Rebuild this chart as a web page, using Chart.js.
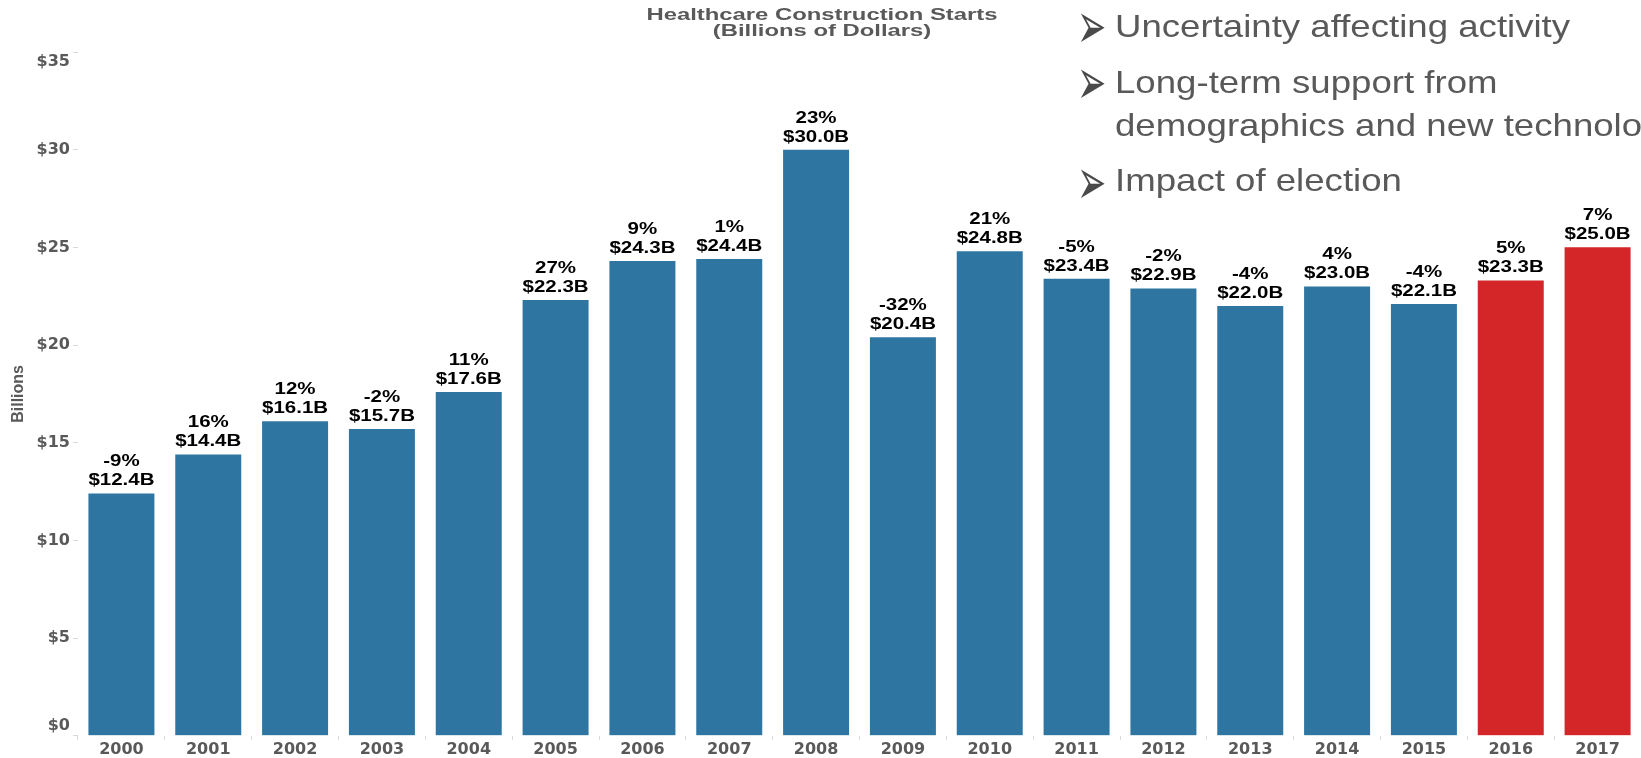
<!DOCTYPE html>
<html>
<head>
<meta charset="utf-8">
<script src="https://cdn.jsdelivr.net/npm/chart.js@4.4.1/dist/chart.umd.min.js"></script>
<style>
    body { margin: 0; background: #fff; }
    .wrap { position: relative; width: 1641px; height: 758px; overflow: hidden; }
    .title { position: absolute; left: 822px; font: bold 16px/16px "Liberation Sans", Arial, sans-serif; color: #595959; white-space: nowrap; transform: translateX(-50%) scaleX(1.49); }
    .bullet { position: absolute; left: 1115px; font: 32px/32px "Liberation Sans", Arial, sans-serif; color: #595959; white-space: nowrap; transform: scaleX(1.144); transform-origin: left top; }
    .arrow { position: absolute; left: 1077px; font: 38px/38px "DejaVu Sans", sans-serif; color: #4a4a4a; transform: scale(0.92, 1.7); transform-origin: 0 22px; }
</style>
</head>
<body>
<div class="wrap">
    <canvas id="startsChart"></canvas>
    <div class="title" style="top: 7px">Healthcare Construction Starts</div>
    <div class="title" style="top: 22.5px">(Billions of Dollars)</div>
    <div class="arrow" style="top: 9.4px">➢</div>
    <div class="bullet" style="top: 9.8px">Uncertainty affecting activity</div>
    <div class="arrow" style="top: 65.4px">➢</div>
    <div class="bullet" style="top: 65.8px">Long-term support from</div>
    <div class="bullet" style="top: 109px">demographics and new technology</div>
    <div class="arrow" style="top: 164.6px">➢</div>
    <div class="bullet" style="top: 163.8px">Impact of election</div>
</div>
<script>
// == Data ==
const years = ["2000", "2001", "2002", "2003", "2004", "2005", "2006", "2007", "2008",
    "2009", "2010", "2011", "2012", "2013", "2014", "2015", "2016", "2017"];
const starts = [12.4, 14.4, 16.1, 15.7, 17.6, 22.3, 24.3, 24.4, 30.0,
    20.4, 24.8, 23.4, 22.9, 22.0, 23.0, 22.1, 23.3, 25.0];
const changes = [-9, 16, 12, -2, 11, 27, 9, 1, 23, -32, 21, -5, -2, -4, 4, -4, 5, 7];
const forecastYears = ["2016", "2017"];
const yTicks = [0, 5, 10, 15, 20, 25, 30, 35];

const blue = '#2E76A1';
const red = '#D42629';
const gray = '#595959';
const tickFont = { family: 'DejaVu Sans', size: 16, weight: 'bold' };

// == Plugins ==
// two-line labels above each bar: % change, then value
const barLabels = {
    id: 'barLabels',
    afterDatasetsDraw(chart) {
        const { ctx } = chart;
        const bars = chart.getDatasetMeta(0).data;
        bars.forEach((bar, i) => {
            ctx.save();
            ctx.translate(bar.x, bar.y);
            ctx.scale(1.28, 1);
            ctx.font = 'bold 16px "Liberation Sans"';
            ctx.fillStyle = '#000';
            ctx.textAlign = 'center';
            ctx.textBaseline = 'middle';
            ctx.fillText(`${changes[i]}%`, 0, -31.5);
            ctx.fillText(`$${starts[i].toFixed(1)}B`, 0, -12.5);
            ctx.restore();
        });
    }
};

// end labels sit inside the axis range, like the original
function yLabel(v) {
    if (v === 35) return ['', `$${v}`];
    if (v === 0) return [`$${v}`, ''];
    return `$${v}`;
}

// == Chart ==
new Chart(document.getElementById('startsChart'), {
    type: 'bar',
    data: {
        labels: years,
        datasets: [{
            label: 'Healthcare Construction Starts',
            data: starts,
            backgroundColor: years.map(y => forecastYears.includes(y) ? red : blue),
            borderWidth: 0,
            categoryPercentage: 1,
            barPercentage: 0.76
        }]
    },
    options: {
        responsive: true,
        maintainAspectRatio: false,
        animation: false,
        layout: { padding: { top: 52, left: 0, right: 0, bottom: 0 } },
        plugins: {
            legend: { display: false },
            tooltip: { enabled: false }
        },
        scales: {
            x: {
                border: { display: false },
                grid: { drawOnChartArea: false, tickLength: 4, color: '#d9d9d9' },
                ticks: { font: tickFont, color: gray, padding: 0, maxRotation: 0 },
                afterFit(scale) { scale.height = 21; }
            },
            y: {
                min: 0,
                max: 35,
                border: { display: false },
                grid: { drawOnChartArea: false, tickLength: 5, color: '#d9d9d9' },
                afterBuildTicks(scale) { scale.ticks = yTicks.map(v => ({ value: v })); },
                ticks: { font: tickFont, color: gray, padding: 3, callback: yLabel },
                title: {
                    display: true,
                    text: 'Billions',
                    color: gray,
                    font: { family: 'Liberation Sans', size: 16, weight: 'bold' },
                    padding: { top: 9, bottom: 0 }
                },
                afterFit(scale) { scale.width = 78; }
            }
        }
    },
    plugins: [barLabels]
});
</script>
</body>
</html>
